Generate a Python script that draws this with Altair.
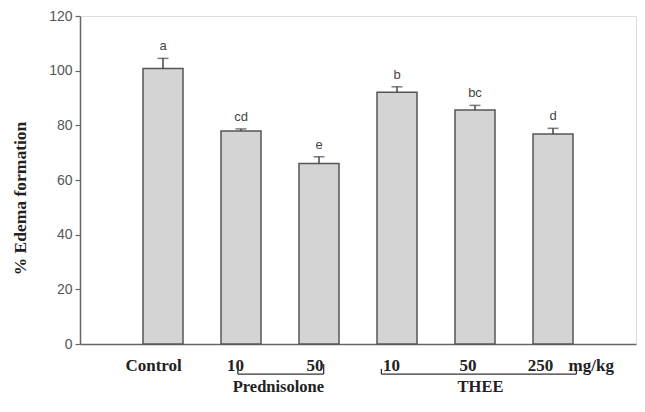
import altair as alt
import pandas as pd

# Bar data
groups = ["Control", "Pred 10", "Pred 50", "THEE 10", "THEE 50", "THEE 250"]
positions = [1, 2, 3, 4, 5, 6]
values = [100.8, 77.9, 66.0, 92.1, 85.6, 76.8]
errors = [3.7, 0.8, 2.5, 2.0, 1.7, 2.1]
letters = ["a", "cd", "e", "b", "bc", "d"]

# Axis-label annotations (data units)
dose_labels = ["Control", "10", "50", "10", "50", "250", "mg/kg"]
dose_x = [0.88, 1.93, 2.95, 3.93, 4.91, 5.84, 6.49]
group_labels = ["Prednisolone", "THEE"]
group_x = [2.48, 5.07]
bracket_x1 = [1.96, 3.8]
bracket_x2 = [3.06, 6.3]

df = pd.DataFrame({"group": groups, "pos": positions, "value": values,
                   "err": errors, "letter": letters})
df["top"] = df["value"] + df["err"]

xs = alt.Scale(domain=[0, 7], nice=False, zero=False)
ys = alt.Scale(domain=[0, 120], nice=False)

x_axis = alt.Axis(labels=False, ticks=False, title=None, grid=False,
                  domainColor="#666", domainWidth=1.5)
y_axis = alt.Axis(values=[0, 20, 40, 60, 80, 100, 120], grid=False,
                  title="% Edema formation", titleFont="Liberation Serif",
                  titleFontSize=17.5, titleFontWeight="bold", titleColor="#222",
                  titleX=-60, titleY=182, titleBaseline="middle",
                  labelFont="Liberation Sans", labelFontSize=14, labelColor="#555",
                  tickColor="#666", tickSize=5, tickWidth=1.2, labelPadding=3,
                  domainColor="#666", domainWidth=1.5)

base = alt.Chart(df)

bars = base.mark_bar(size=40, fill="#d4d4d4", stroke="#555", strokeWidth=1.5).encode(
    x=alt.X("pos:Q", scale=xs, axis=x_axis),
    y=alt.Y("value:Q", scale=ys, axis=y_axis),
)

err_line = base.mark_rule(color="#444", strokeWidth=1.5).encode(
    x="pos:Q", y="value:Q", y2="top:Q")
err_cap = base.mark_tick(orient="horizontal", size=11, thickness=1.5, color="#444").encode(
    x="pos:Q", y="top:Q")

sig = base.mark_text(font="Liberation Sans", fontSize=13, color="#444",
                     baseline="bottom", dy=-5).encode(
    x="pos:Q", y="top:Q", text="letter:N")

dose_df = pd.DataFrame({"label": dose_labels, "x": dose_x, "y": [-8.05] * len(dose_labels)})
dose_text = alt.Chart(dose_df).mark_text(font="Liberation Serif", fontSize=17,
                                         fontWeight="bold", color="#222",
                                         baseline="middle").encode(
    x="x:Q", y="y:Q", text="label:N")

grp_df = pd.DataFrame({"label": group_labels, "x": group_x, "y": [-17.6] * 2})
grp_text = alt.Chart(grp_df).mark_text(font="Liberation Serif", fontSize=16.5,
                                       fontWeight="bold", color="#222",
                                       baseline="alphabetic").encode(
    x="x:Q", y="y:Q", text="label:N")

br_df = pd.DataFrame({"x1": bracket_x1, "x2": bracket_x2,
                      "y": [-11.0] * 2, "ytop": [-7.3, -9.1]})
br_h = alt.Chart(br_df).mark_rule(color="#333", strokeWidth=1.3).encode(
    x="x1:Q", x2="x2:Q", y="y:Q")
br_l = alt.Chart(br_df).mark_rule(color="#333", strokeWidth=1.3).encode(
    x="x1:Q", y="y:Q", y2="ytop:Q")
br_r = alt.Chart(br_df).mark_rule(color="#333", strokeWidth=1.3).encode(
    x="x2:Q", y="y:Q", y2="ytop:Q")

chart = alt.layer(bars, err_line, err_cap, sig, dose_text, grp_text,
                  br_h, br_l, br_r).properties(
    width=556, height=328,
    autosize=alt.AutoSizeParams(type="none"),
    padding={"left": 72, "top": 8, "right": 1, "bottom": 54},
).configure_view(stroke="#666", strokeWidth=1.5).configure(background="white")

chart.save("out.html", embed_options={"renderer": "svg", "actions": False})
